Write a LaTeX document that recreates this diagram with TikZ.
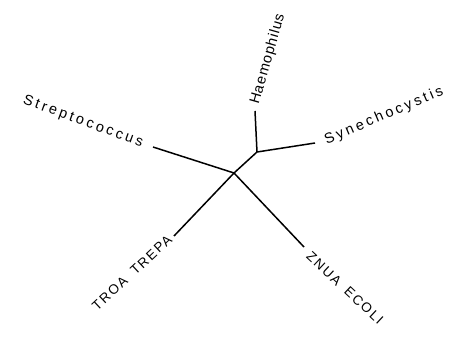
\documentclass[tikz,border=0pt]{standalone}
\usepackage{fontspec}
\setmainfont{Liberation Sans}
\newfontfamily\tipfontA[LetterSpace=6]{Liberation Sans}
\newfontfamily\tipfontB[LetterSpace=20]{Liberation Sans}
\newfontfamily\tipfontC[LetterSpace=13]{Liberation Sans}
\begin{document}
\begin{tikzpicture}[x=1pt,y=-1pt,
  branch/.style={line width=1.5pt, line cap=butt},
  taxon/.style={inner sep=0pt}]
\useasboundingbox (0,0) rectangle (457,339);
% internal nodes and leaf tips
\coordinate (root) at (234,173);
\coordinate (inner) at (257,152);
\coordinate (tHae) at (255,111);
\coordinate (tSyn) at (315,143);
\coordinate (tStr) at (153,147);
\coordinate (tTro) at (174,236);
\coordinate (tZnu) at (304,247);
% branches
\draw[branch] (root) -- (inner);
\draw[branch] (inner) -- (tHae);
\draw[branch] (inner) -- (tSyn);
\draw[branch] (root) -- (tStr);
\draw[branch] (root) -- (tTro);
\draw[branch] (root) -- (tZnu);
% leaf labels
\node[taxon, rotate=74, font=\tipfontA\fontsize{14.5}{16}\selectfont] (lHae) at (268,59) {Haemophilus};
\node[taxon, rotate=23, font=\tipfontB\fontsize{14.5}{16}\selectfont] (lSyn) at (384,116) {Synechocystis};
\node[taxon, rotate=-20, font=\tipfontB\fontsize{14.5}{16}\selectfont] (lStr) at (83,122) {Streptococcus};
\node[taxon, rotate=43, font=\tipfontC\fontsize{13.5}{15}\selectfont] (lTro) at (132,273) {TROA\hspace{4pt} TREPA};
\node[taxon, rotate=-43, font=\tipfontC\fontsize{13.5}{15}\selectfont] (lZnu) at (345,288) {ZNUA\hspace{4pt} ECOLI};
\end{tikzpicture}
\end{document}
